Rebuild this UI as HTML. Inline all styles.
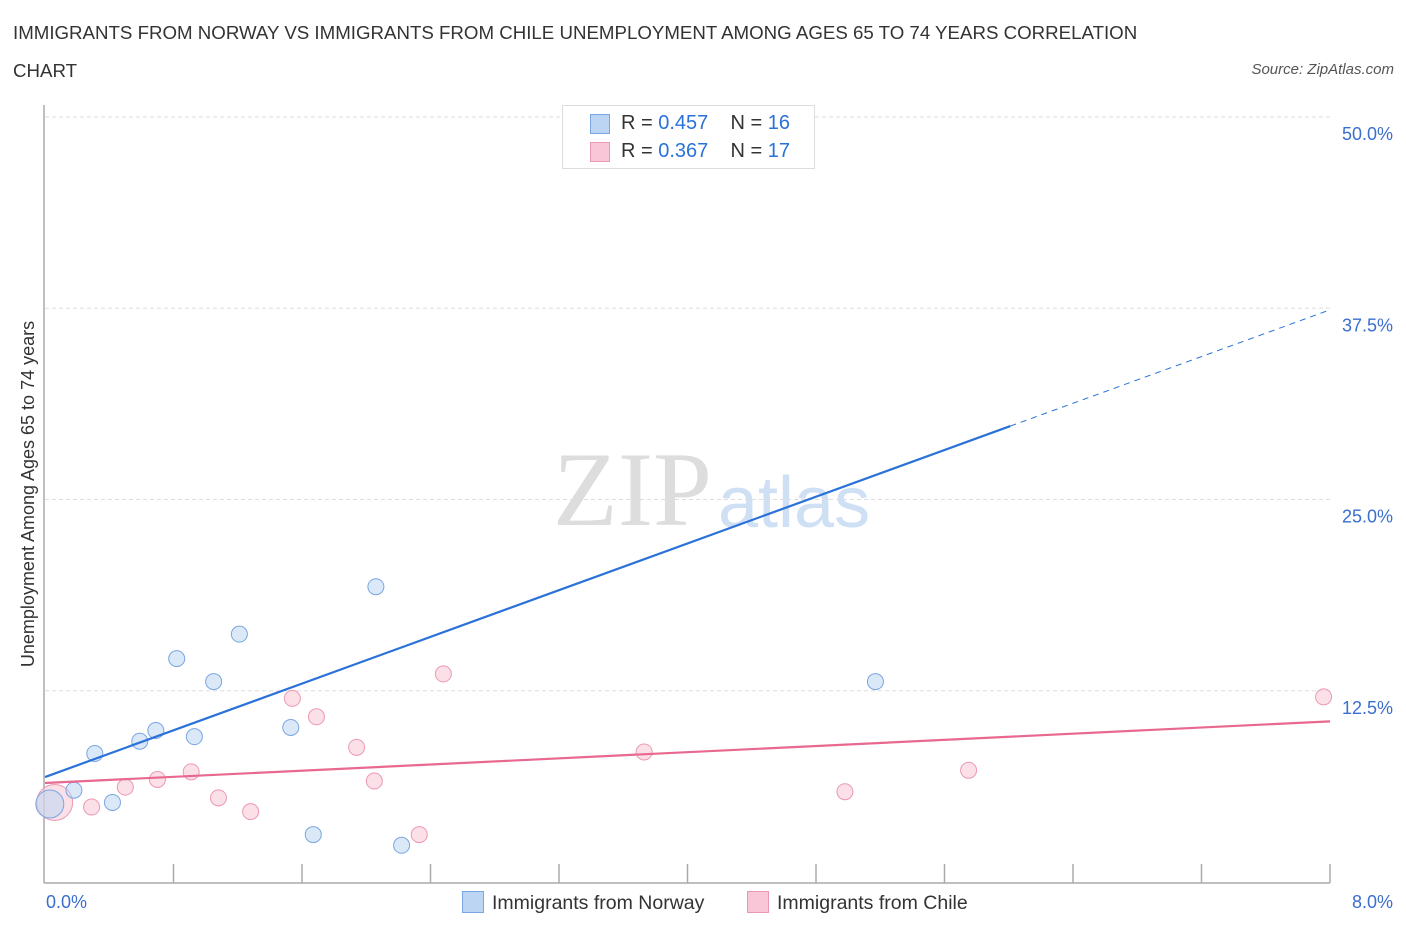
<!DOCTYPE html>
<html><head><meta charset="utf-8"><style>
body{margin:0;background:#fff;font-family:"Liberation Sans",sans-serif;}
#wrap{position:relative;width:1406px;height:930px;overflow:hidden;}
.t{position:absolute;white-space:nowrap;}
</style></head><body>
<div id="wrap">
<div class="t" style="left:13px;top:14px;font-size:18.7px;color:#333;line-height:38px;">IMMIGRANTS FROM NORWAY VS IMMIGRANTS FROM CHILE UNEMPLOYMENT AMONG AGES 65 TO 74 YEARS CORRELATION<br>CHART</div>
<div class="t" style="right:12px;top:61px;font-size:15px;color:#555;font-style:italic;">Source: ZipAtlas.com</div>
<svg id="svg" width="1406" height="930" style="position:absolute;left:0;top:0"></svg>
</div>
<script>
const yTicks=[12.5,25,37.5,50];
const yTickLabels=["12.5%","25.0%","37.5%","50.0%"];
const norwayX=[0.03,0.18,0.31,0.42,0.59,0.69,0.82,0.93,1.05,1.21,1.53,1.67,2.06,2.22,3.33,5.17];
const norwayY=[5.1,6.0,8.4,5.2,9.2,9.9,14.6,9.5,13.1,16.2,10.1,3.1,19.3,2.4,50.0,13.1];
const chileX=[0.06,0.29,0.50,0.70,0.91,1.08,1.28,1.54,1.69,1.94,2.05,2.33,2.48,3.73,4.98,5.75,7.96];
const chileY=[5.2,4.9,6.2,6.7,7.2,5.5,4.6,12.0,10.8,8.8,6.6,3.1,13.6,8.5,5.9,7.3,12.1];
const norwayTrend=[6.86,29.8]; // values at x=0 and x=6.01
const chileTrend=[6.47,10.5]; // values at x=0 and x=8
const X0=45,X1=1330,Y0=882,Y50=117;
const sx=v=>X0+(X1-X0)*v/8;
const sy=v=>Y0-(Y0-Y50)*v/50;
const svg=document.getElementById('svg');
const NS='http://www.w3.org/2000/svg';
function mk(tag,attrs){const e=document.createElementNS(NS,tag);for(const k in attrs)e.setAttribute(k,attrs[k]);svg.appendChild(e);return e;}
let w=mk('text',{x:553,y:525,'font-size':106,fill:'#ddd','font-family':'Liberation Serif, serif'});w.textContent='ZIP';


w=mk('text',{x:718,y:527,'font-size':72,fill:'#cfe0f5','font-family':'Liberation Sans, sans-serif'});w.textContent='atlas';


yTicks.forEach((v,i)=>{
 const l=mk('line',{x1:X0,x2:1330,y1:sy(v),y2:sy(v),stroke:'#ddd','stroke-dasharray':'4,3'});
 
 
 const t=mk('text',{x:1393,y:sy(v)+23,'text-anchor':'end','font-size':18,fill:'#3a6fd0'});t.textContent=yTickLabels[i];
 
 
});
let a=mk('line',{x1:44,x2:44,y1:105,y2:883,stroke:'#aaa','stroke-width':1.5});


a=mk('line',{x1:44,x2:1330,y1:883,y2:883,stroke:'#aaa','stroke-width':1.5});


for(let i=1;i<=10;i++){const t=mk('line',{x1:sx(i*0.8),x2:sx(i*0.8),y1:864,y2:883,stroke:'#aaa','stroke-width':1.5});
 
 }
[['0.0%',46,'start'],['8.0%',1393,'end']].forEach(d=>{const t=mk('text',{x:d[1],y:908,'text-anchor':d[2],'font-size':18,fill:'#3a6fd0'});t.textContent=d[0];
 
 });
let yt=mk('text',{x:0,y:0,'font-size':18,fill:'#333','text-anchor':'middle',transform:'translate(34,494) rotate(-90)'});yt.textContent='Unemployment Among Ages 65 to 74 years';


function pts(xs,ys,fill,stroke,name){xs.forEach((x,i)=>{const c=mk('circle',{cx:sx(x),cy:sy(ys[i]),r:i==0?(name=='norway-point'?14:18):8,fill:fill,'fill-opacity':0.55,stroke:stroke,'stroke-width':1});
 
 });}
pts(chileX,chileY,'#f8c6d6','#eb98b4','chile-point');
pts(norwayX,norwayY,'#bcd5f3','#7aa6e2','norway-point');
let l=mk('line',{x1:sx(0),y1:sy(norwayTrend[0]),x2:sx(6.01),y2:sy(norwayTrend[1]),stroke:'#2a72d8','stroke-width':2.2});


const slope=(norwayTrend[1]-norwayTrend[0])/6.01;
l=mk('line',{x1:sx(6.01),y1:sy(norwayTrend[1]),x2:sx(8),y2:sy(norwayTrend[0]+slope*8),stroke:'#2a72d8','stroke-width':1,'stroke-dasharray':'6,5'});


l=mk('line',{x1:sx(0),y1:sy(chileTrend[0]),x2:sx(8),y2:sy(chileTrend[1]),stroke:'#e8688f','stroke-width':2.2});


</script>
<div style="position:absolute;left:562px;top:105px;width:251px;height:62px;border:1px solid #ddd;background:#fff;font-size:20px;color:#333;">
 <div style="position:absolute;left:27px;top:8px;width:18px;height:18px;background:#bcd5f3;border:1px solid #7aa6e2;"></div>
 <div class="t" style="left:58px;top:6px;">R = <span style="color:#2a72d8">0.457</span> &nbsp;&nbsp; N = <span style="color:#2a72d8">16</span></div>
 <div style="position:absolute;left:27px;top:36px;width:18px;height:18px;background:#f8c6d6;border:1px solid #eb98b4;"></div>
 <div class="t" style="left:58px;top:34px;">R = <span style="color:#2a72d8">0.367</span> &nbsp;&nbsp; N = <span style="color:#2a72d8">17</span></div>
</div>
<div style="position:absolute;left:462px;top:891px;font-size:19.5px;color:#333;">
 <span style="display:inline-block;width:20px;height:20px;background:#bcd5f3;border:1px solid #7aa6e2;vertical-align:-4px;margin-right:8px;"></span>Immigrants from Norway</div>
<div style="position:absolute;left:747px;top:891px;font-size:19.5px;color:#333;">
 <span style="display:inline-block;width:20px;height:20px;background:#f8c6d6;border:1px solid #eb98b4;vertical-align:-4px;margin-right:8px;"></span>Immigrants from Chile</div>
</body></html>
